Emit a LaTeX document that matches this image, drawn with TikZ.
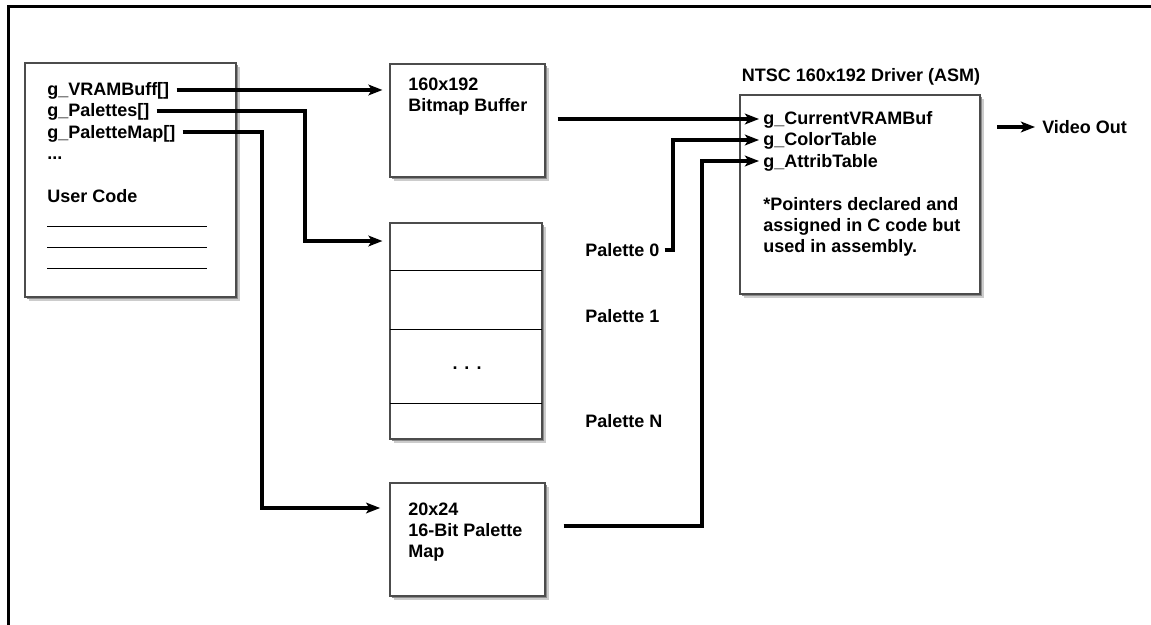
\documentclass[tikz,border=0pt]{standalone}
\usepackage{fontspec}
\setmainfont{Liberation Sans}
\usetikzlibrary{arrows.meta,calc,fit,shadows}
\begin{document}
\begin{tikzpicture}[x=0.75pt,y=-0.75pt,
  box/.style={draw=black!70, line width=0.8pt, fill=white, inner sep=0pt,
     general shadow={fill=black!20, shadow xshift=3pt, shadow yshift=-3pt},
     general shadow={fill=black!45, shadow xshift=1.5pt, shadow yshift=-1.5pt}},
  lbl/.style={inner sep=0pt, anchor=west, text height=9pt, text depth=0pt,
     font=\fontsize{13.5pt}{15.75pt}\selectfont\bfseries},
  conn/.style={line width=2.3pt, line join=miter},
  arr/.style={conn, -{Stealth[length=10.5pt,width=8pt,inset=2.5pt]}},
  rulel/.style={line width=0.75pt}
]
\useasboundingbox (0,0) rectangle (1151,624);
\fill[white] (0,0) rectangle (1151,624);
% outer frame (top and left edges visible)
\draw[line width=2.25pt] (8,626) -- (8,7) -- (1153,7);

% boxes
\node[box, fit={(25,63) (236,297)}] (user) {};
\node[box, fit={(390,64) (545,177)}] (bitmap) {};
\node[box, fit={(390,223) (542,439)}] (stack) {};
\node[box, fit={(390,483) (545,596)}] (map) {};
\node[box, fit={(740,95) (980,294)}] (driver) {};

% palette stack dividers
\draw[rulel] (390,270) -- (542,270);
\draw[rulel] (390,329) -- (542,329);
\draw[rulel] (390,403) -- (542,403);

% user code lines
\draw[rulel] (47,226) -- (207,226);
\draw[rulel] (47,247) -- (207,247);
\draw[rulel] (47,268) -- (207,268);

% texts: user code box
\node[lbl] (vram) at (47,90) {g\_VRAMBuff[]};
\node[lbl] (pal) at (47,111) {g\_Palettes[]};
\node[lbl] (pmap) at (47,132) {g\_PaletteMap[]};
\node[lbl] (udots) at (47,153) {...};
\node[lbl] (ucode) at (47,196) {User Code};

% bitmap buffer
\node[lbl] (bm1) at (408,85) {160x192};
\node[lbl] (bm2) at (408,106) {Bitmap Buffer};

% palette map
\node[lbl] (mp1) at (408,509) {20x24};
\node[lbl] (mp2) at (408,530) {16-Bit Palette};
\node[lbl] (mp3) at (408,551) {Map};

% palette stack
\node[lbl, anchor=center] (sdots) at (467,363) {.\hspace{5.25pt}.\hspace{5.25pt}.};
\node[lbl] (p0) at (585,250) {Palette 0};
\node[lbl] (p1) at (585,316) {Palette 1};
\node[lbl] (pn) at (585,421) {Palette N};

% driver
\node[lbl, anchor=center] (title) at (861,76) {NTSC 160x192 Driver (ASM)};
\node[lbl] (cur) at (763,119) {g\_CurrentVRAMBuf};
\node[lbl] (ctab) at (763,140) {g\_ColorTable};
\node[lbl] (atab) at (763,161) {g\_AttribTable};
\node[lbl] (n1) at (763,204) {*Pointers declared and};
\node[lbl] (n2) at (763,225) {assigned in C code but};
\node[lbl] (n3) at (763,246) {used in assembly.};
\node[lbl] (video) at (1042,127) {Video Out};

% bend points
\coordinate (k1) at (305,241);
\coordinate (k2) at (262,508);
\coordinate (k3) at (673,0);
\coordinate (k4) at (702,526);
\coordinate (vo) at (997,127);

% connectors
\draw[arr, shorten <=5.25pt, shorten >=5.25pt] (vram.east) -- (vram.east -| bitmap.west);
\draw[arr, shorten <=5.25pt, shorten >=5.25pt] (pal.east) -| (k1) -- (k1 -| stack.west);
\draw[arr, shorten <=5.25pt, shorten >=7pt] (pmap.east) -| (k2) -- (k2 -| map.west);
\draw[arr, shorten <=9pt, shorten >=3pt] (cur.west -| bitmap.east) -- (cur.west);
\draw[arr, shorten <=3.75pt, shorten >=3pt] (p0.east) -| (k3 |- ctab.west) -- (ctab.west);
\draw[arr, shorten <=13.5pt, shorten >=3pt] (k4 -| map.east) -- (k4) |- (atab.west);
\draw[arr, shorten >=5.25pt] (vo) -- (video.west);
\end{tikzpicture}
\end{document}
